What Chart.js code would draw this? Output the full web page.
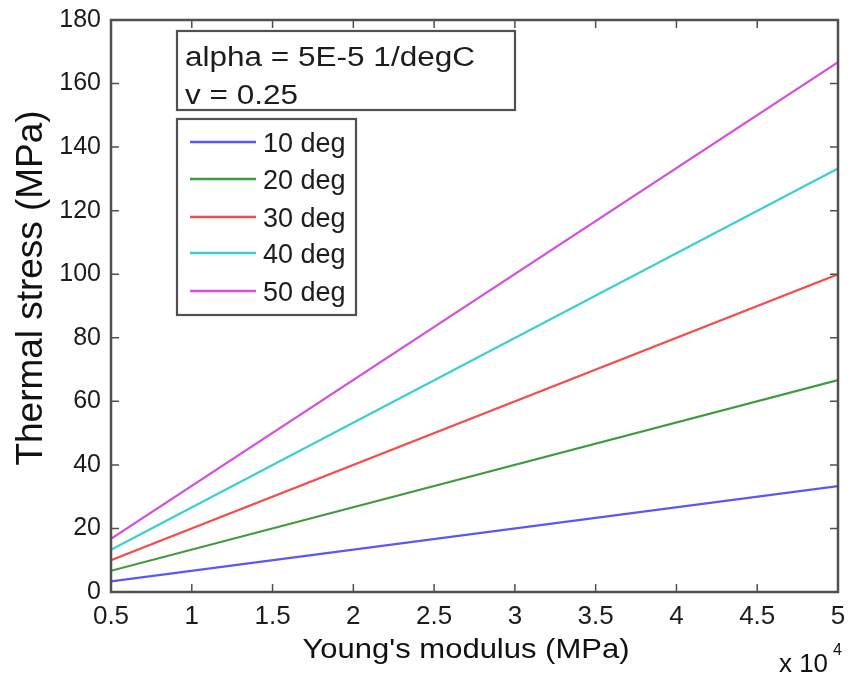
<!DOCTYPE html>
<html><head><meta charset="utf-8">
<script src="https://cdn.jsdelivr.net/npm/chart.js@4/dist/chart.umd.min.js"></script>
<style>html,body{margin:0;padding:0;background:#fff}#wrap{width:853px;height:682px}</style>
</head><body><div id="wrap"><canvas id="c" width="853" height="682"></canvas></div>
<script>
const youngsModulus = [5000, 50000];
const deg10 = [3.33, 33.3];
const deg20 = [6.67, 66.7];
const deg30 = [10.0, 100.0];
const deg40 = [13.3, 133.3];
const deg50 = [16.7, 166.7];
const seriesLabels = ['10 deg', '20 deg', '30 deg', '40 deg', '50 deg'];
const seriesColors = ['#5858f4', '#3f9a3f', '#f44e4e', '#3ccfcf', '#d452da'];
const infoLines = ['alpha = 5E-5 1/degC', 'v = 0.25'];
const xTitle = "Young's modulus (MPa)";
const yTitle = 'Thermal stress (MPa)';

const allSeries = [deg10, deg20, deg30, deg40, deg50];
const datasets = allSeries.map((s, i) => ({
  label: seriesLabels[i],
  data: youngsModulus.map((x, j) => ({x: x, y: s[j]})),
  borderColor: seriesColors[i], backgroundColor: seriesColors[i],
  borderWidth: 2.2, pointRadius: 0, tension: 0, fill: false
}));

const FONT = 'Liberation Sans, Arial, sans-serif';
function fitText(ctx, text, x, y, size, width, align) {
  ctx.save();
  ctx.font = size + 'px ' + FONT;
  const w = ctx.measureText(text).width;
  const sx = width ? width / w : 1;
  ctx.translate(x, y);
  ctx.scale(sx, 1);
  ctx.textAlign = align || 'left';
  ctx.fillText(text, 0, 0);
  ctx.restore();
}
const decor = {
  id: 'decor',
  afterDraw(chart) {
    const ctx = chart.ctx, a = chart.chartArea;
    const xs = chart.scales.x, ys = chart.scales.y;
    ctx.save();
    ctx.strokeStyle = '#505050'; ctx.lineWidth = 1.5;
    xs.ticks.forEach(t => {
      const px = xs.getPixelForValue(t.value);
      ctx.beginPath(); ctx.moveTo(px, a.bottom); ctx.lineTo(px, a.bottom - 8);
      ctx.moveTo(px, a.top); ctx.lineTo(px, a.top + 8); ctx.stroke();
    });
    ys.ticks.forEach(t => {
      const py = ys.getPixelForValue(t.value);
      ctx.beginPath(); ctx.moveTo(a.left, py); ctx.lineTo(a.left + 8, py);
      ctx.moveTo(a.right, py); ctx.lineTo(a.right - 8, py); ctx.stroke();
    });
    ctx.strokeStyle = '#505050'; ctx.lineWidth = 2.5;
    ctx.strokeRect(a.left, a.top, a.right - a.left, a.bottom - a.top);
    // info box
    ctx.fillStyle = '#fff';
    ctx.fillRect(177, 31, 338, 79);
    ctx.lineWidth = 2.2; ctx.strokeStyle = '#505050';
    ctx.strokeRect(177, 31, 338, 79);
    ctx.fillStyle = '#1c1c1c'; ctx.textBaseline = 'alphabetic';
    fitText(ctx, infoLines[0], 185, 66, 27, 290);
    fitText(ctx, infoLines[1], 185, 104, 27, 113);
    // legend box
    ctx.fillStyle = '#fff';
    ctx.fillRect(177, 119, 179, 196);
    ctx.strokeRect(177, 119, 179, 196);
    const rowY = [142, 179, 217, 253, 291];
    chart.data.datasets.forEach((d, i) => {
      ctx.strokeStyle = d.borderColor; ctx.lineWidth = 2.5;
      ctx.beginPath(); ctx.moveTo(190, rowY[i]); ctx.lineTo(256, rowY[i]); ctx.stroke();
      ctx.fillStyle = '#1c1c1c';
      fitText(ctx, d.label, 263, rowY[i] + 10, 27, 0);
    });
    // axis titles
    ctx.fillStyle = '#111';
    fitText(ctx, xTitle, 466, 658, 28, 327, 'center');
    ctx.save();
    ctx.translate(42, 288); ctx.rotate(-Math.PI / 2);
    fitText(ctx, yTitle, 0, 0, 36, 355, 'center');
    ctx.restore();
    fitText(ctx, 'x 10', 779, 672, 26, 49);
    fitText(ctx, '4', 833, 655, 16, 0);
    ctx.restore();
  }
};

new Chart(document.getElementById('c'), {
  type: 'line',
  data: { datasets: datasets },
  options: {
    responsive: false, animation: false,
    layout: { padding: { left: 0, top: 20, right: 15, bottom: 0 } },
    plugins: { legend: { display: false }, tooltip: { enabled: false } },
    scales: {
      x: {
        type: 'linear', min: 5000, max: 50000,
        afterFit(s) { s.height = 90; s.paddingLeft = 0; s.paddingRight = 0; },
        grid: { display: false, drawTicks: false }, border: { display: false },
        ticks: { stepSize: 5000, padding: 9, maxRotation: 0, autoSkip: false,
          color: '#1c1c1c', font: { size: 26, family: FONT },
          callback: v => String(v / 10000) }
      },
      y: {
        min: 0, max: 180,
        afterFit(s) { s.width = 111; s.paddingTop = 0; s.paddingBottom = 0; },
        grid: { display: false, drawTicks: false }, border: { display: false },
        ticks: { stepSize: 20, padding: 10, color: '#1c1c1c', font: { size: 25, family: FONT } }
      }
    }
  },
  plugins: [decor]
});
</script></body></html>
